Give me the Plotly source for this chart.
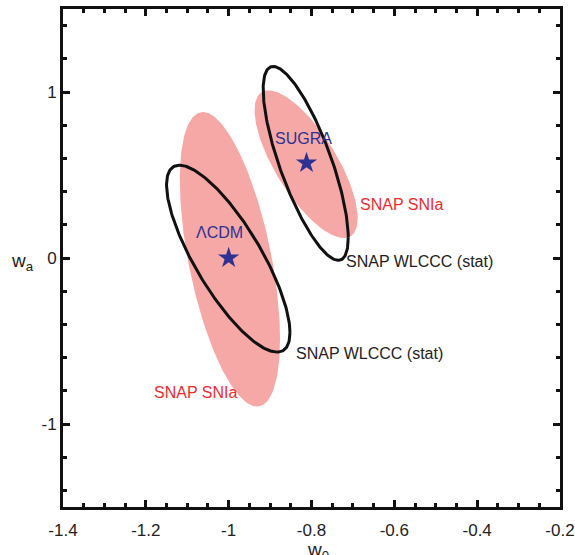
import numpy as np
import plotly.graph_objects as go

# ---- data ----
# ellipse specs: centre w0, centre wa, half-extent in w0, half-extent in wa, correlation
sn_lcdm = dict(cx=-0.997, cy=-0.008, sx=0.121, sy=0.887, rho=-0.54)
wl_lcdm = dict(cx=-1.001, cy=-0.004, sx=0.149, sy=0.563, rho=-0.79)
sn_sugra = dict(cx=-0.813, cy=0.565, sx=0.1245, sy=0.445, rho=-0.73)
wl_sugra = dict(cx=-0.814, cy=0.570, sx=0.1027, sy=0.584, rho=-0.765)

model_names = ["ΛCDM", "SUGRA"]
model_w0 = [-1.0, -0.812]
model_wa = [0.0, 0.572]

x_tick_vals = [-1.4, -1.2, -1.0, -0.8, -0.6, -0.4, -0.2]
x_tick_text = ["-1.4", "-1.2", "-1", "-0.8", "-0.6", "-0.4", "-0.2"]
x_minor_vals = [-1.35, -1.3, -1.25, -1.15, -1.1, -1.05, -0.95, -0.9, -0.85,
                -0.75, -0.7, -0.65, -0.55, -0.5, -0.45, -0.35, -0.3, -0.25]
y_tick_vals = [-1, 0, 1]
y_tick_text = ["-1", "0", "1"]
y_minor_vals = [-1.4, -1.2, -0.8, -0.6, -0.4, -0.2, 0.2, 0.4, 0.6, 0.8, 1.2, 1.4]

# labels: text, w0, wa, colour key
labels_text = ["SNAP SNIa", "SNAP WLCCC (stat)", "SNAP WLCCC (stat)", "SNAP SNIa"]
labels_w0 = [-0.688, -0.722, -0.842, -1.186]
labels_wa = [0.324, -0.019, -0.573, -0.812]
labels_kind = ["sn", "wl", "wl", "sn"]
model_label_w0 = [-1.021, -0.820]
model_label_wa = [0.155, 0.721]

PINK = "#F5A8A6"
RED = "#EE2B2E"
BLUE = "#2E3192"
FONT = "Liberation Sans, Arial, Helvetica, sans-serif"


def ellipse(spec, n=240):
    t = np.linspace(0, 2 * np.pi, n)
    d = np.arccos(spec["rho"])
    return spec["cx"] + spec["sx"] * np.cos(t), spec["cy"] + spec["sy"] * np.cos(t + d)


fig = go.Figure()
for spec in (sn_lcdm, sn_sugra):
    ex, ey = ellipse(spec)
    fig.add_trace(go.Scatter(x=ex, y=ey, mode="lines", fill="toself",
                             fillcolor=PINK, line=dict(width=0, color=PINK),
                             hoverinfo="skip", showlegend=False))
for spec in (wl_lcdm, wl_sugra):
    ex, ey = ellipse(spec)
    fig.add_trace(go.Scatter(x=ex, y=ey, mode="lines",
                             line=dict(width=3, color="#111111"),
                             hoverinfo="skip", showlegend=False))
fig.add_trace(go.Scatter(x=model_w0, y=model_wa, mode="markers",
                         marker=dict(symbol="star", size=16, color=BLUE,
                                     line=dict(width=0)),
                         showlegend=False))

for txt, lx, ly, kind in zip(labels_text, labels_w0, labels_wa, labels_kind):
    fig.add_annotation(x=lx, y=ly, text=txt, showarrow=False, xanchor="left",
                       yanchor="middle",
                       font=dict(size=16, family=FONT,
                                 color=RED if kind == "sn" else "#222222"))
for txt, lx, ly in zip(model_names, model_label_w0, model_label_wa):
    fig.add_annotation(x=lx, y=ly, text=txt, showarrow=False, xanchor="center",
                       yanchor="middle", font=dict(size=16, family=FONT, color=BLUE))

# axis titles
fig.add_annotation(x=0.513, y=-0.060, xref="paper", yref="paper", text="w<sub>0</sub>",
                   showarrow=False, xanchor="center", yanchor="top",
                   font=dict(size=19, family=FONT, color="#222222"))
fig.add_annotation(x=-0.108, y=0.492, xref="paper", yref="paper", text="w<sub>a</sub>",
                   showarrow=False, xanchor="left", yanchor="middle",
                   font=dict(size=19, family=FONT, color="#222222"))

axis_common = dict(showline=True, linewidth=3, linecolor="#111111", mirror="allticks",
                   ticks="inside", ticklen=7, tickwidth=2.5, tickcolor="#111111",
                   showgrid=False, zeroline=False, automargin=False,
                   tickfont=dict(size=17, family=FONT, color="#222222"))
fig.update_xaxes(range=[-1.4, -0.2], tickmode="array", tickvals=x_tick_vals,
                 ticktext=x_tick_text, ticklabelstandoff=6,
                 minor=dict(tickmode="array", tickvals=x_minor_vals, ticklen=4,
                            tickwidth=2.5, tickcolor="#111111", ticks="inside",
                            showgrid=False),
                 **axis_common)
fig.update_yaxes(range=[-1.5, 1.5], tickmode="array", tickvals=y_tick_vals,
                 ticktext=y_tick_text,
                 minor=dict(tickmode="array", tickvals=y_minor_vals, ticklen=4,
                            tickwidth=2.5, tickcolor="#111111", ticks="inside",
                            showgrid=False),
                 **axis_common)

fig.update_layout(width=575, height=555, margin=dict(l=63, r=15, t=9, b=48),
                  plot_bgcolor="white", paper_bgcolor="white", showlegend=False)

# remove the browser's default 8px page margin so the figure fills the window
fig.write_html("out.html",
               config={"displayModeBar": False},
               post_script="document.body.style.margin='0';"
                           "document.body.style.overflow='hidden';")
